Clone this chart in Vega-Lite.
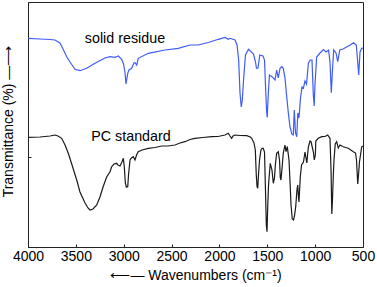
{
  "$schema": "https://vega.github.io/schema/vega-lite/v6.json",
  "autosize": {"type": "none"},
  "width": 335,
  "height": 245,
  "padding": {"left": 28, "top": 2, "right": 14, "bottom": 40},
  "background": "white",
  "config": {
    "view": {"stroke": "#222", "strokeWidth": 1},
    "font": "Liberation Sans"
  },
  "datasets": {
    "spectra": [
      {"s":"solid residue","wn":3997,"t":208.7},{"s":"solid residue","wn":3875,"t":208},{"s":"solid residue","wn":3770,"t":207.5},{"s":"solid residue","wn":3718,"t":207},{"s":"solid residue","wn":3666,"t":204},{"s":"solid residue","wn":3634,"t":198},{"s":"solid residue","wn":3596,"t":190.3},{"s":"solid residue","wn":3561,"t":185},{"s":"solid residue","wn":3509,"t":177.7},{"s":"solid residue","wn":3457,"t":176.3},{"s":"solid residue","wn":3387,"t":178.7},{"s":"solid residue","wn":3300,"t":183.7},{"s":"solid residue","wn":3196,"t":189},{"s":"solid residue","wn":3143,"t":190.3},{"s":"solid residue","wn":3091,"t":189.7},{"s":"solid residue","wn":3057,"t":191},{"s":"solid residue","wn":3021,"t":187.7},{"s":"solid residue","wn":3002,"t":183},{"s":"solid residue","wn":2987,"t":175},{"s":"solid residue","wn":2976,"t":163},{"s":"solid residue","wn":2958,"t":173.7},{"s":"solid residue","wn":2945,"t":177},{"s":"solid residue","wn":2917,"t":178.7},{"s":"solid residue","wn":2893,"t":184},{"s":"solid residue","wn":2882,"t":184.3},{"s":"solid residue","wn":2864,"t":182},{"s":"solid residue","wn":2848,"t":188.7},{"s":"solid residue","wn":2743,"t":193.7},{"s":"solid residue","wn":2569,"t":197},{"s":"solid residue","wn":2430,"t":198.7},{"s":"solid residue","wn":2307,"t":202},{"s":"solid residue","wn":2221,"t":202},{"s":"solid residue","wn":2098,"t":205},{"s":"solid residue","wn":2012,"t":207.7},{"s":"solid residue","wn":1942,"t":209.5},{"s":"solid residue","wn":1907,"t":207.7},{"s":"solid residue","wn":1890,"t":208.7},{"s":"solid residue","wn":1837,"t":207},{"s":"solid residue","wn":1816,"t":202},{"s":"solid residue","wn":1799,"t":187},{"s":"solid residue","wn":1785,"t":154},{"s":"solid residue","wn":1772,"t":140},{"s":"solid residue","wn":1761,"t":147},{"s":"solid residue","wn":1748,"t":167},{"s":"solid residue","wn":1728,"t":192},{"s":"solid residue","wn":1696,"t":197.7},{"s":"solid residue","wn":1644,"t":193},{"s":"solid residue","wn":1623,"t":185},{"s":"solid residue","wn":1613,"t":178.7},{"s":"solid residue","wn":1597,"t":179},{"s":"solid residue","wn":1578,"t":192},{"s":"solid residue","wn":1545,"t":191},{"s":"solid residue","wn":1529,"t":187},{"s":"solid residue","wn":1519,"t":162},{"s":"solid residue","wn":1508,"t":137},{"s":"solid residue","wn":1501,"t":129.5},{"s":"solid residue","wn":1489,"t":154},{"s":"solid residue","wn":1477,"t":172},{"s":"solid residue","wn":1451,"t":170.3},{"s":"solid residue","wn":1419,"t":167},{"s":"solid residue","wn":1402,"t":177},{"s":"solid residue","wn":1385,"t":169},{"s":"solid residue","wn":1367,"t":178.7},{"s":"solid residue","wn":1348,"t":180.3},{"s":"solid residue","wn":1333,"t":178.7},{"s":"solid residue","wn":1315,"t":169},{"s":"solid residue","wn":1297,"t":150.3},{"s":"solid residue","wn":1280,"t":134},{"s":"solid residue","wn":1263,"t":120.3},{"s":"solid residue","wn":1244,"t":113},{"s":"solid residue","wn":1228,"t":112},{"s":"solid residue","wn":1218,"t":137},{"s":"solid residue","wn":1205,"t":114},{"s":"solid residue","wn":1192,"t":110.3},{"s":"solid residue","wn":1181,"t":134},{"s":"solid residue","wn":1169,"t":129},{"s":"solid residue","wn":1153,"t":149},{"s":"solid residue","wn":1137,"t":160},{"s":"solid residue","wn":1122,"t":159},{"s":"solid residue","wn":1106,"t":166},{"s":"solid residue","wn":1090,"t":163},{"s":"solid residue","wn":1071,"t":183.7},{"s":"solid residue","wn":1051,"t":187},{"s":"solid residue","wn":1033,"t":187},{"s":"solid residue","wn":1019,"t":152},{"s":"solid residue","wn":1010,"t":141},{"s":"solid residue","wn":1002,"t":162},{"s":"solid residue","wn":984,"t":190},{"s":"solid residue","wn":949,"t":194},{"s":"solid residue","wn":913,"t":197.5},{"s":"solid residue","wn":887,"t":195},{"s":"solid residue","wn":860,"t":197},{"s":"solid residue","wn":845,"t":185},{"s":"solid residue","wn":831,"t":154.3},{"s":"solid residue","wn":819,"t":177},{"s":"solid residue","wn":806,"t":197},{"s":"solid residue","wn":782,"t":194},{"s":"solid residue","wn":764,"t":185.3},{"s":"solid residue","wn":743,"t":197},{"s":"solid residue","wn":709,"t":198},{"s":"solid residue","wn":633,"t":202},{"s":"solid residue","wn":599,"t":204.3},{"s":"solid residue","wn":570,"t":202},{"s":"solid residue","wn":557,"t":187},{"s":"solid residue","wn":545,"t":172},{"s":"solid residue","wn":531,"t":195},{"s":"solid residue","wn":514,"t":198.7},{"s":"solid residue","wn":500,"t":199},
      {"s":"PC standard","wn":3997,"t":109.7},{"s":"PC standard","wn":3875,"t":110},{"s":"PC standard","wn":3770,"t":111},{"s":"PC standard","wn":3718,"t":112},{"s":"PC standard","wn":3687,"t":111},{"s":"PC standard","wn":3648,"t":108.7},{"s":"PC standard","wn":3613,"t":102},{"s":"PC standard","wn":3579,"t":93.7},{"s":"PC standard","wn":3540,"t":82},{"s":"PC standard","wn":3491,"t":67},{"s":"PC standard","wn":3457,"t":55},{"s":"PC standard","wn":3404,"t":44},{"s":"PC standard","wn":3373,"t":39},{"s":"PC standard","wn":3352,"t":37},{"s":"PC standard","wn":3321,"t":38},{"s":"PC standard","wn":3282,"t":42},{"s":"PC standard","wn":3248,"t":50},{"s":"PC standard","wn":3216,"t":60},{"s":"PC standard","wn":3178,"t":70},{"s":"PC standard","wn":3143,"t":75.3},{"s":"PC standard","wn":3126,"t":80.3},{"s":"PC standard","wn":3101,"t":83},{"s":"PC standard","wn":3073,"t":83.7},{"s":"PC standard","wn":3060,"t":82},{"s":"PC standard","wn":3039,"t":81},{"s":"PC standard","wn":3018,"t":85},{"s":"PC standard","wn":3004,"t":88.7},{"s":"PC standard","wn":2994,"t":80.3},{"s":"PC standard","wn":2983,"t":64},{"s":"PC standard","wn":2973,"t":60},{"s":"PC standard","wn":2958,"t":60.3},{"s":"PC standard","wn":2950,"t":72},{"s":"PC standard","wn":2934,"t":87},{"s":"PC standard","wn":2919,"t":89},{"s":"PC standard","wn":2900,"t":90.3},{"s":"PC standard","wn":2882,"t":87},{"s":"PC standard","wn":2866,"t":92},{"s":"PC standard","wn":2848,"t":95.3},{"s":"PC standard","wn":2809,"t":97},{"s":"PC standard","wn":2743,"t":98.7},{"s":"PC standard","wn":2673,"t":99.5},{"s":"PC standard","wn":2603,"t":101},{"s":"PC standard","wn":2537,"t":101},{"s":"PC standard","wn":2464,"t":102},{"s":"PC standard","wn":2412,"t":104},{"s":"PC standard","wn":2360,"t":105.3},{"s":"PC standard","wn":2307,"t":107.5},{"s":"PC standard","wn":2255,"t":108.7},{"s":"PC standard","wn":2172,"t":109.5},{"s":"PC standard","wn":2081,"t":110.3},{"s":"PC standard","wn":2015,"t":110.5},{"s":"PC standard","wn":1942,"t":112},{"s":"PC standard","wn":1907,"t":113.7},{"s":"PC standard","wn":1890,"t":111},{"s":"PC standard","wn":1872,"t":108.7},{"s":"PC standard","wn":1858,"t":111},{"s":"PC standard","wn":1837,"t":112},{"s":"PC standard","wn":1785,"t":111.5},{"s":"PC standard","wn":1715,"t":111.3},{"s":"PC standard","wn":1677,"t":110},{"s":"PC standard","wn":1663,"t":108.7},{"s":"PC standard","wn":1639,"t":104},{"s":"PC standard","wn":1625,"t":97},{"s":"PC standard","wn":1615,"t":72},{"s":"PC standard","wn":1607,"t":60.3},{"s":"PC standard","wn":1600,"t":58.7},{"s":"PC standard","wn":1592,"t":72},{"s":"PC standard","wn":1581,"t":87},{"s":"PC standard","wn":1566,"t":97},{"s":"PC standard","wn":1555,"t":98.7},{"s":"PC standard","wn":1542,"t":98.7},{"s":"PC standard","wn":1529,"t":95},{"s":"PC standard","wn":1519,"t":57},{"s":"PC standard","wn":1510,"t":22},{"s":"PC standard","wn":1503,"t":15.3},{"s":"PC standard","wn":1495,"t":42},{"s":"PC standard","wn":1487,"t":62},{"s":"PC standard","wn":1469,"t":83.7},{"s":"PC standard","wn":1451,"t":77},{"s":"PC standard","wn":1437,"t":63.7},{"s":"PC standard","wn":1425,"t":69},{"s":"PC standard","wn":1416,"t":82},{"s":"PC standard","wn":1402,"t":93.7},{"s":"PC standard","wn":1385,"t":95.3},{"s":"PC standard","wn":1372,"t":87},{"s":"PC standard","wn":1364,"t":69},{"s":"PC standard","wn":1357,"t":67},{"s":"PC standard","wn":1343,"t":82},{"s":"PC standard","wn":1333,"t":93.7},{"s":"PC standard","wn":1315,"t":102},{"s":"PC standard","wn":1304,"t":95.3},{"s":"PC standard","wn":1291,"t":100.3},{"s":"PC standard","wn":1273,"t":87},{"s":"PC standard","wn":1261,"t":62},{"s":"PC standard","wn":1252,"t":42},{"s":"PC standard","wn":1239,"t":28},{"s":"PC standard","wn":1226,"t":27},{"s":"PC standard","wn":1216,"t":31},{"s":"PC standard","wn":1203,"t":40.3},{"s":"PC standard","wn":1190,"t":57},{"s":"PC standard","wn":1182,"t":62},{"s":"PC standard","wn":1174,"t":50},{"s":"PC standard","wn":1169,"t":45},{"s":"PC standard","wn":1155,"t":70.3},{"s":"PC standard","wn":1142,"t":82},{"s":"PC standard","wn":1122,"t":85},{"s":"PC standard","wn":1106,"t":95},{"s":"PC standard","wn":1087,"t":84},{"s":"PC standard","wn":1071,"t":100},{"s":"PC standard","wn":1054,"t":106},{"s":"PC standard","wn":1043,"t":105.3},{"s":"PC standard","wn":1028,"t":99},{"s":"PC standard","wn":1017,"t":94},{"s":"PC standard","wn":1009,"t":87},{"s":"PC standard","wn":998,"t":92},{"s":"PC standard","wn":993,"t":106},{"s":"PC standard","wn":967,"t":108.7},{"s":"PC standard","wn":931,"t":110.3},{"s":"PC standard","wn":897,"t":110.5},{"s":"PC standard","wn":869,"t":112},{"s":"PC standard","wn":845,"t":108.7},{"s":"PC standard","wn":834,"t":77},{"s":"PC standard","wn":826,"t":33},{"s":"PC standard","wn":819,"t":47},{"s":"PC standard","wn":810,"t":72},{"s":"PC standard","wn":803,"t":87},{"s":"PC standard","wn":790,"t":103},{"s":"PC standard","wn":775,"t":105.3},{"s":"PC standard","wn":758,"t":99},{"s":"PC standard","wn":740,"t":102},{"s":"PC standard","wn":706,"t":100.3},{"s":"PC standard","wn":654,"t":98.7},{"s":"PC standard","wn":601,"t":95.3},{"s":"PC standard","wn":578,"t":94},{"s":"PC standard","wn":568,"t":87},{"s":"PC standard","wn":555,"t":63},{"s":"PC standard","wn":547,"t":72},{"s":"PC standard","wn":537,"t":85},{"s":"PC standard","wn":514,"t":100},{"s":"PC standard","wn":500,"t":101}
    ],
    "labels": [
      {"label": "solid residue", "wn": 2987, "t": 208},
      {"label": "PC standard", "wn": 2924, "t": 110}
    ]
  },
  "layer": [
    {
      "data": {"name": "spectra"},
      "mark": {"type": "line", "strokeWidth": 1.2, "interpolate": "linear"},
      "encoding": {
        "x": {
          "field": "wn", "type": "quantitative",
          "scale": {"domain": [4000, 500], "nice": false},
          "axis": {
            "values": [4000, 3750, 3500, 3250, 3000, 2750, 2500, 2250, 2000, 1750, 1500, 1250, 1000, 750, 500],
            "labelExpr": "datum.value % 500 == 0 ? datum.label : ''",
            "format": "d",
            "grid": false,
            "domainColor": "#222",
            "tickColor": "#222",
            "tickSize": -3,
            "labelPadding": 5,
            "labelFontSize": 14,
            "labelColor": "#000",
            "labelFont": "Liberation Sans",
            "labelFlush": false,
            "title": "⟵— Wavenumbers (cm⁻¹)",
            "titleFontSize": 14,
            "titleFontWeight": "normal",
            "titleColor": "#000",
            "titleFont": "Liberation Sans",
            "titlePadding": 5
          }
        },
        "y": {
          "field": "t", "type": "quantitative",
          "scale": {"domain": [0, 245], "nice": false},
          "axis": {
            "values": [90],
            "labels": false,
            "grid": false,
            "domainColor": "#222",
            "tickColor": "#222",
            "tickSize": -3,
            "title": "Transmittance (%)  —⟶",
            "titleFontSize": 14,
            "titleFontWeight": "normal",
            "titleColor": "#000",
            "titleFont": "Liberation Sans",
            "titleX": -13,
            "titleY": 119,
            "titleAngle": -90,
            "titleBaseline": "bottom"
          }
        },
        "color": {
          "field": "s", "type": "nominal",
          "scale": {"domain": ["solid residue", "PC standard"], "range": ["#3f5cf5", "#1a1a1a"]},
          "legend": null
        }
      }
    },
    {
      "data": {"name": "labels"},
      "mark": {"type": "text", "fontSize": 14.3, "font": "Liberation Sans", "color": "#000", "align": "center", "baseline": "middle"},
      "encoding": {
        "x": {"field": "wn", "type": "quantitative"},
        "y": {"field": "t", "type": "quantitative"},
        "text": {"field": "label"}
      }
    }
  ]
}
